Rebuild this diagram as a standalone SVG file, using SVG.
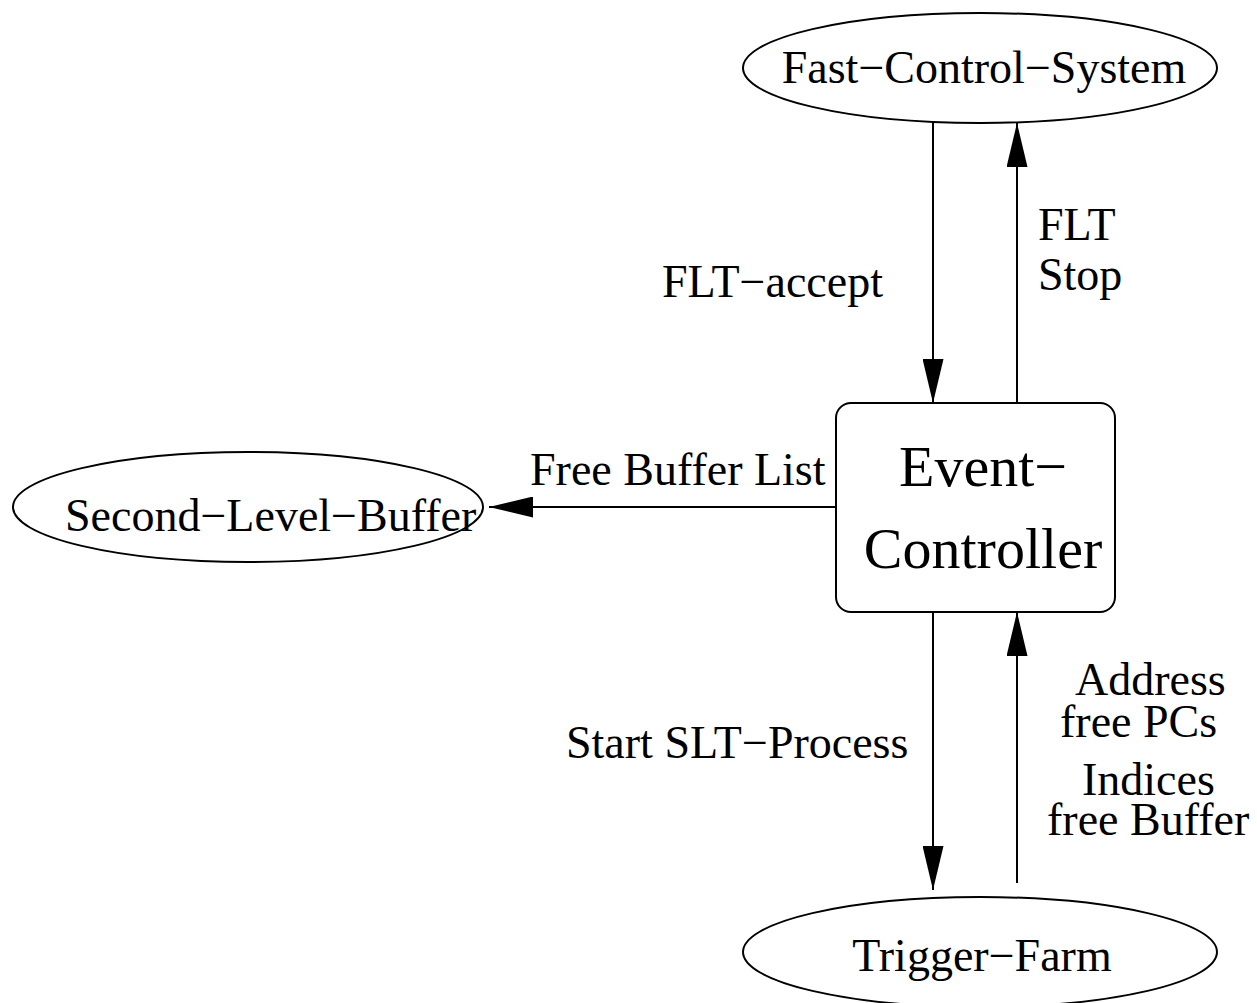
<svg xmlns="http://www.w3.org/2000/svg" width="1257" height="1003" viewBox="0 0 1257 1003">
<style>
  .shape { fill: #ffffff; stroke: #000000; stroke-width: 2; }
  .edge { fill: none; stroke: #000000; stroke-width: 2; marker-end: url(#arrow); }
  text { font-family: "Liberation Serif", "Times New Roman", serif; fill: #000000; }
  .node { font-size: 46px; }
  .big { font-size: 58px; }
  .lbl { font-size: 46px; }
</style>
<defs>
  <marker id="arrow" markerUnits="userSpaceOnUse" markerWidth="44" markerHeight="21" refX="44" refY="10.5" orient="auto">
    <path d="M0,0 L44,10.5 L0,21 Z" fill="#000000"/>
  </marker>
</defs>
<rect width="1257" height="1003" fill="#ffffff"/>
<g id="connectors">
  <line class="edge" x1="933" y1="123" x2="933" y2="403"/>
  <line class="edge" x1="1017" y1="403" x2="1017" y2="123"/>
  <line class="edge" x1="836" y1="507" x2="489" y2="507"/>
  <line class="edge" x1="933" y1="612" x2="933" y2="890"/>
  <line class="edge" x1="1017" y1="883" x2="1017" y2="612"/>
  <text class="lbl" x="662" y="297">FLT−accept</text>
  <text class="lbl"><tspan x="1038" y="240">FLT</tspan><tspan x="1038" y="290">Stop</tspan></text>
  <text class="lbl" x="530" y="485">Free Buffer List</text>
  <text class="lbl" x="566" y="758">Start SLT−Process</text>
  <text class="lbl"><tspan x="1075" y="695">Address</tspan><tspan x="1060" y="737">free PCs</tspan></text>
  <text class="lbl"><tspan x="1082" y="795">Indices</tspan><tspan x="1047" y="835">free Buffer</tspan></text>
</g>
<g id="fast-control-system">
  <ellipse class="shape" cx="980" cy="68" rx="237" ry="55"/>
  <text class="node" x="984" y="83" text-anchor="middle">Fast−Control−System</text>
</g>
<g id="event-controller">
  <rect class="shape" x="836" y="403" width="279" height="209" rx="15" ry="15"/>
  <text class="big" text-anchor="middle"><tspan x="983" y="486">Event−</tspan><tspan x="983" y="568">Controller</tspan></text>
</g>
<g id="second-level-buffer">
  <ellipse class="shape" cx="248" cy="507" rx="235" ry="55"/>
  <text class="node" x="65" y="531">Second−Level−Buffer</text>
</g>
<g id="trigger-farm">
  <ellipse class="shape" cx="980" cy="952" rx="237" ry="55"/>
  <text class="node" x="982" y="971" text-anchor="middle">Trigger−Farm</text>
</g>
</svg>
